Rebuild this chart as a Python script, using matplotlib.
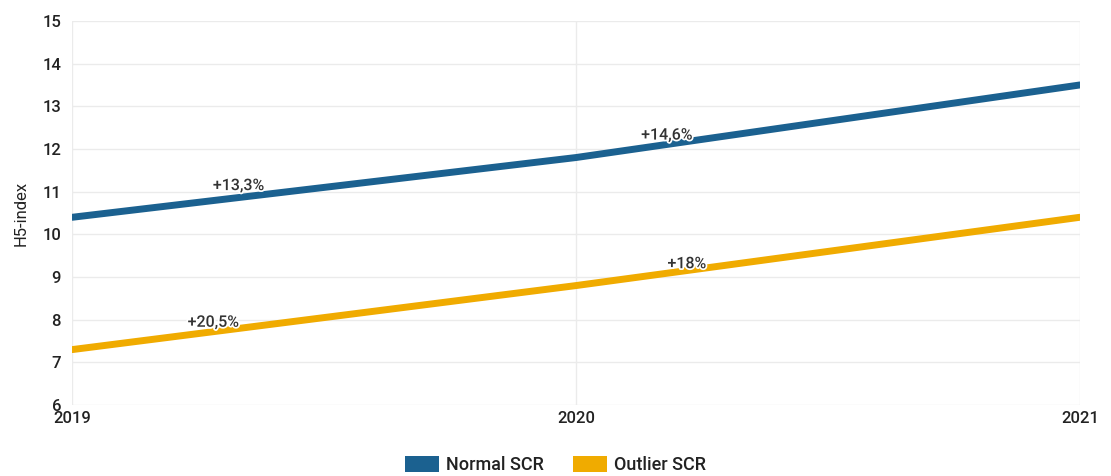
import matplotlib.pyplot as plt
from matplotlib.patches import Patch
import matplotlib.patheffects as pe

# Chart data
years = [2019, 2020, 2021]
normal_scr = [10.4, 11.8, 13.5]
outlier_scr = [7.3, 8.8, 10.4]
normal_growth = ["+13,3%", "+14,6%"]
outlier_growth = ["+20,5%", "+18%"]
series_names = ["Normal SCR", "Outlier SCR"]

blue = "#1b6190"
gold = "#f0ab00"
text_col = "#222222"

plt.rcParams["font.family"] = ["Roboto", "DejaVu Sans"]
plt.rcParams["font.weight"] = "medium"

fig = plt.figure(figsize=(11.11, 4.76), dpi=100)
ax = fig.add_axes([0.065, 0.149, 0.907, 0.807])

ax.plot(years, normal_scr, color=blue, lw=5, solid_capstyle="round", zorder=3)
ax.plot(years, outlier_scr, color=gold, lw=5, solid_capstyle="round", zorder=3)

# growth labels sit just above the segment, a bit right of its start
halo = [pe.withStroke(linewidth=2.5, foreground="white")]
for vals, labels, offs in [(normal_scr, normal_growth, [(0.33, 0.28), (0.18, 0.22)]),
                           (outlier_scr, outlier_growth, [(0.28, 0.22), (0.22, 0.16)])]:
    for i, lab in enumerate(labels):
        fx, dy = offs[i]
        x = years[i] + fx
        y = vals[i] + (vals[i + 1] - vals[i]) * fx + dy
        ax.text(x, y, lab, ha="center", va="center", fontsize=11.5,
                color="#333333", path_effects=halo, zorder=4)

ax.set_xlim(2019, 2021)
ax.set_ylim(6, 15)
ax.set_xticks(years)
ax.set_xticklabels([str(y) for y in years])
ax.set_yticks(range(6, 16))
ax.grid(True, color="#ebebeb", lw=1)
ax.set_axisbelow(True)
for s in ax.spines.values():
    s.set_visible(False)
ax.tick_params(length=0, labelsize=12, colors=text_col)
ax.tick_params(axis="x", pad=4)
ax.tick_params(axis="y", pad=8)
ax.set_ylabel("H5-index", fontsize=12, color=text_col, labelpad=10)

handles = [Patch(facecolor=blue, edgecolor="none"), Patch(facecolor=gold, edgecolor="none")]
fig.legend(handles, series_names, loc="lower center", bbox_to_anchor=(0.5, -0.03),
           ncol=2, frameon=False, fontsize=13, handlelength=1.9, handleheight=1.0,
           columnspacing=1.6, handletextpad=0.4, labelcolor=text_col)

fig.savefig("out.png", dpi=100)
